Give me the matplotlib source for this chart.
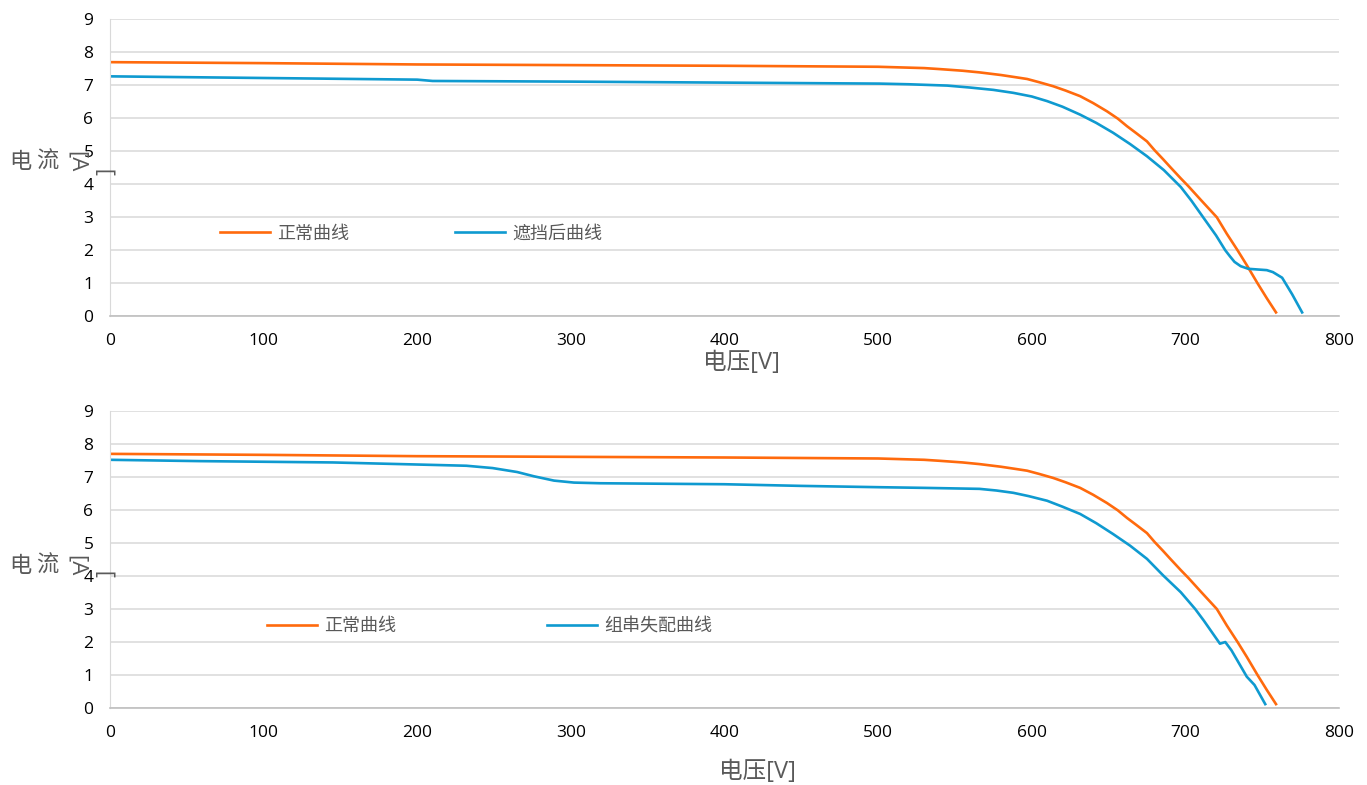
import matplotlib.pyplot as plt

plt.rcParams['font.family'] = ['Open Sans', 'Noto Sans CJK SC', 'DejaVu Sans']
plt.rcParams['font.size'] = 12

# normal IV curve (same in both panels)
v_norm = [0, 100, 200, 300, 400, 500, 530, 540, 555, 566, 580, 590, 597, 605, 614,
          622, 631.5, 640, 649, 656, 662, 668, 675, 680, 685.5, 690, 697, 702, 710,
          720.5, 727, 734, 740, 747, 753, 759]
i_norm = [7.70, 7.67, 7.63, 7.61, 7.59, 7.56, 7.52, 7.49, 7.44, 7.39, 7.31, 7.24,
          7.19, 7.09, 6.97, 6.84, 6.67, 6.46, 6.21, 5.99, 5.76, 5.55, 5.30, 5.03,
          4.76, 4.53, 4.18, 3.94, 3.53, 3.0, 2.5, 2.0, 1.55, 1.0, 0.55, 0.12]

# shaded curve (top)
v_shade = [0, 100, 200, 210, 300, 400, 501, 520, 545, 560, 575, 588, 600, 610, 620,
           631.5, 642, 653, 664, 675, 686, 697, 704, 711.6, 720, 726, 729, 732, 736,
           741, 747, 753, 757, 763, 769.5, 776]
i_shade = [7.27, 7.22, 7.17, 7.13, 7.11, 7.08, 7.05, 7.03, 6.99, 6.93, 6.86, 6.77,
           6.66, 6.52, 6.35, 6.11, 5.86, 5.56, 5.22, 4.85, 4.43, 3.92, 3.5, 3.0,
           2.45, 2.0, 1.82, 1.65, 1.52, 1.44, 1.42, 1.40, 1.34, 1.17, 0.67, 0.12]

# string mismatch curve (bottom)
v_mis = [0, 59, 145, 189, 232, 249, 265, 276, 289, 302, 319, 400, 450, 501, 530,
         566, 577, 588, 598, 610, 620, 631.5, 642, 653, 664, 675, 685.5, 697, 706.4,
         712, 718, 722.5, 726, 730, 735, 740, 745, 752]
i_mis = [7.52, 7.48, 7.44, 7.39, 7.34, 7.27, 7.15, 7.02, 6.89, 6.83, 6.81, 6.78,
         6.73, 6.69, 6.67, 6.64, 6.59, 6.52, 6.42, 6.28, 6.10, 5.88, 5.60, 5.27,
         4.92, 4.52, 4.02, 3.51, 3.0, 2.65, 2.25, 1.95, 2.0, 1.75, 1.35, 0.95, 0.7,
         0.12]

xticks = list(range(0, 900, 100))
yticks = list(range(0, 10))

orange = '#FF6A0D'
blue = '#0F9AD0'
grey = '#595959'

fig = plt.figure(figsize=(13.67, 7.85), dpi=100)
ax1 = fig.add_axes([0.0805, 0.597, 0.899, 0.3785])
ax2 = fig.add_axes([0.0805, 0.098, 0.899, 0.3785])

panels = [
    (ax1, v_shade, i_shade, '遮挡后曲线', 5.87, (0.0895, 0.279)),
    (ax2, v_mis, i_mis, '组串失配曲线', 8.36, (0.1277, 0.276)),
]

for ax, vx, iy, lab, colsp, anchor in panels:
    ax.plot(v_norm, i_norm, color=orange, lw=1.9, label='正常曲线')
    ax.plot(vx, iy, color=blue, lw=1.9, label=lab)
    ax.set_xlim(0, 800)
    ax.set_ylim(0, 9)
    ax.set_xticks(xticks)
    ax.set_yticks(yticks)
    ax.grid(axis='y', color='#D9D9D9', lw=1.1)
    ax.set_axisbelow(True)
    for s in ['top', 'right']:
        ax.spines[s].set_visible(False)
    ax.spines['left'].set_color('#D9D9D9')
    ax.spines['bottom'].set_color('#BFBFBF')
    ax.spines['bottom'].set_linewidth(1.2)
    ax.tick_params(length=0, labelsize=12.5, colors='black')
    ax.tick_params(axis='x', pad=12)
    ax.tick_params(axis='y', pad=12)
    ax.legend(ncol=2, loc='center left', bbox_to_anchor=anchor, frameon=False,
              fontsize=13, labelcolor=grey, handlelength=2.77, handletextpad=0.39,
              columnspacing=colsp, borderpad=0, borderaxespad=0)

# axis labels
fig.text(741 / 1367, 1 - 363 / 785, '电压[V]', fontsize=17, color=grey,
         ha='center', va='center')
fig.text(757 / 1367, 1 - 772 / 785, '电压[V]', fontsize=17, color=grey,
         ha='center', va='center')

# y label drawn in pieces, as the wrapped label in the original
for yc, yb in [(162, 171), (566, 573)]:
    fig.text(20 / 1367, 1 - yc / 785, '电', fontsize=16, color=grey, ha='center', va='center')
    fig.text(47 / 1367, 1 - yc / 785, '流', fontsize=16, color=grey, ha='center', va='center')
    fig.text(76 / 1367, 1 - yc / 785, '[A', fontsize=16, color=grey, ha='center',
             va='center', rotation=-90)
    fig.text(106 / 1367, 1 - yb / 785, ']', fontsize=16, color=grey, ha='center',
             va='center', rotation=90)

plt.savefig('out.png', dpi=100)
